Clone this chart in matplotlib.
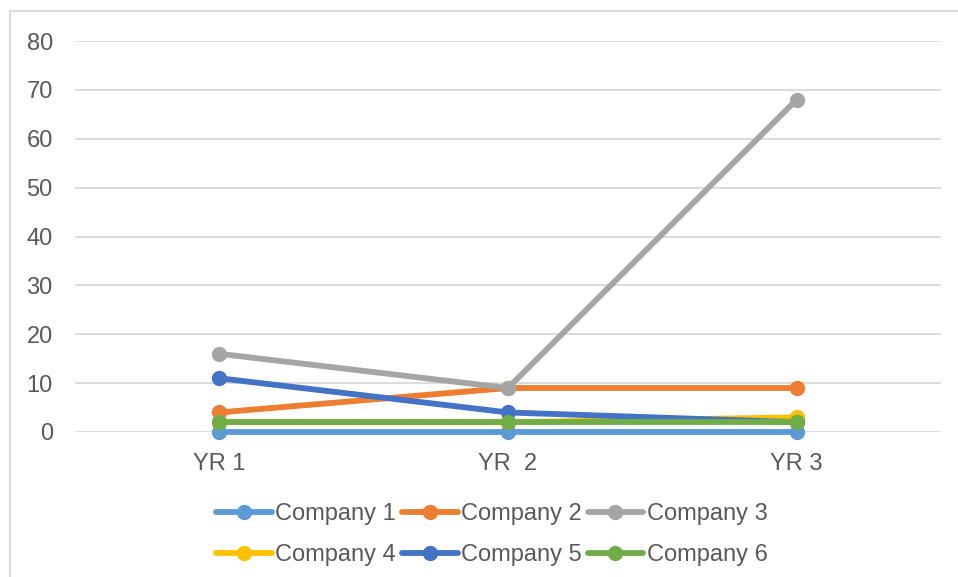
import matplotlib
matplotlib.use("Agg")
import matplotlib.pyplot as plt
from matplotlib.lines import Line2D

plt.rcParams['font.family'] = ['Liberation Sans', 'DejaVu Sans']

categories = ["YR 1", "YR  2", "YR 3"]
series_names = ["Company 1", "Company 2", "Company 3", "Company 4", "Company 5", "Company 6"]
company_1 = [0, 0, 0]
company_2 = [4, 9, 9]
company_3 = [16, 9, 68]
company_4 = [2, 2, 3]
company_5 = [11, 4, 2]
company_6 = [2, 2, 2]
y_ticks = [0, 10, 20, 30, 40, 50, 60, 70, 80]

colors = ["#5b9bd5", "#ed7d31", "#a5a5a5", "#ffc000", "#4472c4", "#70ad47"]
values = [company_1, company_2, company_3, company_4, company_5, company_6]

fig = plt.figure(figsize=(9.58, 5.77), dpi=100)
ax = fig.add_axes([75 / 958, 1 - 432 / 577, (941 - 75) / 958, (432 - 41) / 577])

x = list(range(len(categories)))
handles = []
for name, vals, c in zip(series_names, values, colors):
    ln, = ax.plot(x, vals, color=c, lw=4.2, marker="o", markersize=10,
                  solid_capstyle="round", label=name, clip_on=False)
    handles.append(ln)

ax.set_xlim(-0.5, len(categories) - 0.5)
ax.set_ylim(0, 80)
ax.set_yticks(y_ticks)
ax.set_xticks(x)
ax.set_xticklabels(categories)
ax.grid(axis="y", color="#d9d9d9", lw=1.3)
ax.set_axisbelow(True)
for s in ax.spines.values():
    s.set_visible(False)
ax.tick_params(axis="both", length=0, labelsize=17, colors="#595959")
ax.tick_params(axis="y", pad=16)
ax.tick_params(axis="x", pad=15)

# legend fills column by column; order the entries so rows read 1-2-3 / 4-5-6
order = [0, 3, 1, 4, 2, 5]
leg = fig.legend([handles[i] for i in order], [series_names[i] for i in order],
                 loc="center", bbox_to_anchor=(492 / 958, 1 - 534.5 / 577), ncol=3,
                 frameon=False, fontsize=17, handlelength=2.35,
                 handletextpad=0.15, columnspacing=0.25, labelspacing=0.8,
                 borderpad=0)
for t in leg.get_texts():
    t.set_color("#595959")

# chart area outline (top and left edges)
fig.add_artist(Line2D([9.5 / 958, 9.5 / 958], [0, 1 - 11 / 577],
                      transform=fig.transFigure, color="#d9d9d9", lw=1.3))
fig.add_artist(Line2D([9.5 / 958, 1], [1 - 11 / 577, 1 - 11 / 577],
                      transform=fig.transFigure, color="#d9d9d9", lw=1.3))

fig.savefig("out.png", dpi=100)
